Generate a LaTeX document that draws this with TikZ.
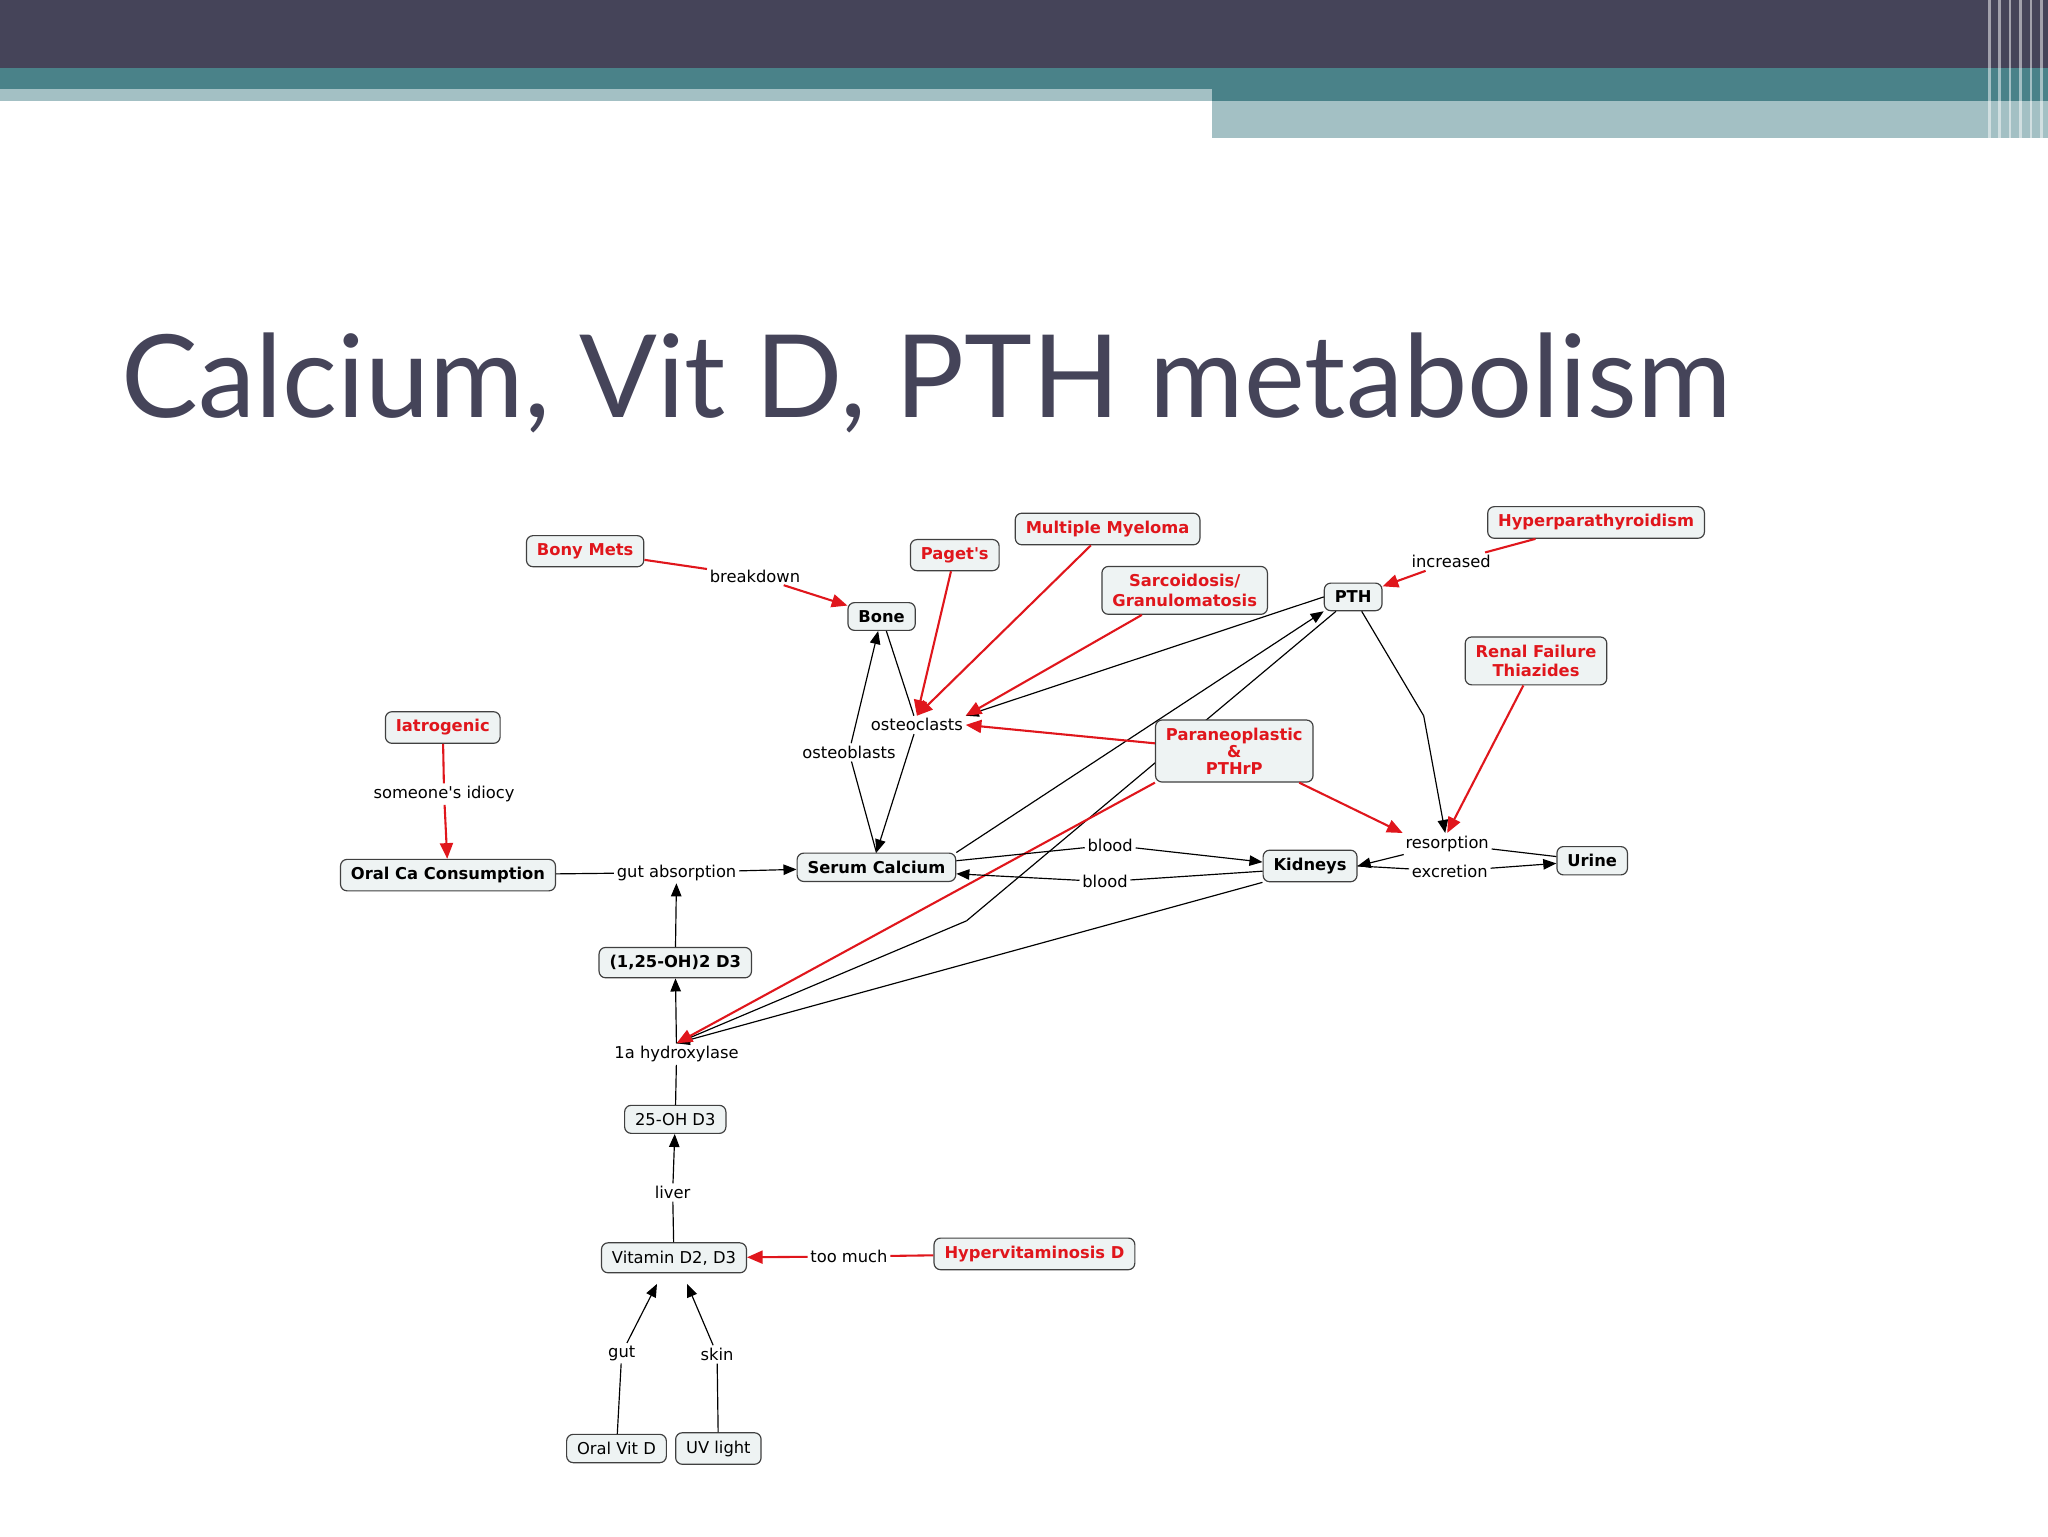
\documentclass[tikz,border=0pt]{standalone}
\usepackage{fontspec}
\setmainfont{DejaVu Sans}
\newfontfamily\titlefont{Lato}
\usetikzlibrary{arrows.meta}
\definecolor{barD}{HTML}{454459}
\definecolor{barT}{HTML}{4A8289}
\definecolor{barL}{HTML}{A3C0C4}
\definecolor{nfill}{HTML}{EEF3F3}
\definecolor{rd}{HTML}{E0161C}
\tikzset{
 box/.style={draw=black!75,line width=0.9pt,rounded corners=5pt,fill=nfill,font=\fontsize{12.5}{15}\selectfont\bfseries,inner xsep=8pt,inner ysep=6pt,align=center},
 rbox/.style={box,text=rd},
 pbox/.style={box,font=\fontsize{12.5}{15}\selectfont},
 lbl/.style={fill=white,inner sep=2pt,font=\fontsize{12.5}{15}\selectfont},
 ar/.style={-{Triangle[length=10pt,width=8pt]},black,line width=0.9pt},
 ln/.style={black,line width=0.9pt},
 rar/.style={-{Triangle[length=12pt,width=10pt]},rd,line width=1.6pt},
 rln/.style={rd,line width=1.6pt}
}
\begin{document}
\begin{tikzpicture}[x=1pt,y=-1pt]
\useasboundingbox (0,0) rectangle (1568,1176);
\fill[white] (0,0) rectangle (1568,1176);
\fill[barD] (0,0) rectangle (1568,52);
\fill[barT] (0,52) rectangle (1568,68);
\fill[barL] (0,68) rectangle (928,77);
\fill[barT] (928,68) rectangle (1568,77);
\fill[barL] (928,77) rectangle (1568,106);
\foreach \x in {1522,1530,1538,1546,1554,1562} \fill[white,opacity=.5] (\x,0) rectangle (\x+2,106);
\node[anchor=base west,text=barD,inner sep=0] at (93,320) {\titlefont\fontsize{88}{100}\selectfont Calcium, Vit D, PTH metabolism};

% nodes
\node[rbox] (bony) at (448,422) {Bony Mets};
\node[lbl] (breakdown) at (578,441) {breakdown};
\node[box] (bone) at (675,472) {Bone};
\node[rbox] (paget) at (731,425) {Paget\textquotesingle s};
\node[rbox] (mm) at (848,405) {Multiple Myeloma};
\node[rbox] (sarc) at (907,452) {Sarcoidosis/\\Granulomatosis};
\node[box] (pth) at (1036,457) {PTH};
\node[rbox] (hpt) at (1222,400) {Hyperparathyroidism};
\node[lbl] (incr) at (1111,430) {increased};
\node[rbox] (renal) at (1176,506) {Renal Failure\\Thiazides};
\node[rbox] (iatro) at (339,557) {Iatrogenic};
\node[lbl] (idiocy) at (340,608) {someone\textquotesingle s idiocy};
\node[lbl] (oclast) at (702,555) {osteoclasts};
\node[lbl] (oblast) at (650,576) {osteoblasts};
\node[box] (oral) at (343,670) {Oral Ca Consumption};
\node[lbl] (gutabs) at (518,668) {gut absorption};
\node[box] (serum) at (671,664) {Serum Calcium};
\node[lbl] (blood1) at (850,647) {blood};
\node[lbl] (blood2) at (846,675) {blood};
\node[box] (kid) at (1003,663) {Kidneys};
\node[lbl] (resorp) at (1108,646) {resorption};
\node[lbl] (excr) at (1110,667) {excretion};
\node[box] (urine) at (1219,659) {Urine};
\node[box] (d125) at (517,737) {(1,25-OH)2 D3};
\node[lbl] (hydrox) at (518,807) {1a hydroxylase};
\node[pbox] (d25) at (517,857) {25-OH D3};
\node[lbl] (liver) at (515,913) {liver};
\node[pbox] (vitd) at (516,963) {Vitamin D2, D3};
\node[lbl] (toomuch) at (650,962) {too much};
\node[rbox] (hyperd) at (792,960) {Hypervitaminosis D};
\node[lbl] (gut) at (476,1036) {gut};
\node[lbl] (skin) at (549,1037) {skin};
\node[pbox] (oralvd) at (472,1109) {Oral Vit D};
\node[pbox] (uv) at (550,1109) {UV light};
\coordinate (pthbend) at (740,705);
\coordinate (pthbend2) at (1090,548);
\coordinate (vgut) at (503,983);
\coordinate (vskin) at (526,983);

% black connectors (behind para node)
\draw[ln] (pth) -- (pthbend);
\draw[ar] (pthbend) -- (hydrox.north);
\draw[ar] (kid.south west) -- (hydrox.north);
\draw[ar] (serum.north east) -- (pth.south west);
\draw[ar] (pth.west) -- (oclast.north east);

\node[rbox,inner ysep=6pt] (para) at (945,575) {Paraneoplastic\\[-2pt]\&\\[-2pt]PTHrP};

\draw[rln] (bony) -- (breakdown); \draw[rar] (breakdown) -- (bone);
\draw[ln] (bone) -- (oclast); \draw[ar] (oclast) -- (serum.north);
\draw[ln] (serum.north) -- (oblast); \draw[ar] (oblast) -- (bone);
\draw[rar] (paget) -- (oclast.north);
\draw[rar] (mm) -- (oclast.north);
\draw[rar] (sarc) -- (oclast.north east);
\draw[rar] (para) -- (oclast.east);
\draw[rln] (hpt) -- (incr); \draw[rar] (incr) -- (pth);
\draw[ln] (pth) -- (pthbend2); \draw[ar] (pthbend2) -- (resorp);
\draw[rar] (renal) -- (resorp.north);
\draw[rar] (para) -- (resorp.north west);
\draw[rar] (para.south west) -- (hydrox.north);
\draw[ln] ([yshift=5pt]serum.east) -- (blood1); \draw[ar] (blood1) -- ([yshift=3pt]kid.west);
\draw[ln] ([yshift=-4pt]kid.west) -- (blood2); \draw[ar] (blood2) -- ([yshift=-5pt]serum.east);
\draw[ar] (resorp) -- (kid.east);
\draw[ln] (kid.east) -- (excr); \draw[ar] (excr) -- (urine);
\draw[ln] (urine) -- (resorp);
\draw[rln] (iatro) -- (idiocy); \draw[rar] (idiocy) -- (oral);
\draw[ln] (oral) -- (gutabs); \draw[ar] (gutabs) -- (serum);
\draw[ar] (d125) -- (gutabs);
\draw[ar] (hydrox) -- (d125);
\draw[ln] (d25) -- (hydrox);
\draw[ar] (liver) -- (d25);
\draw[ln] (vitd) -- (liver);
\draw[rln] (hyperd) -- (toomuch); \draw[rar] (toomuch) -- (vitd);
\draw[ln] (oralvd) -- (gut); \draw[ar] (gut) -- (vgut);
\draw[ln] (uv) -- (skin); \draw[ar] (skin) -- (vskin);
\end{tikzpicture}
\end{document}
